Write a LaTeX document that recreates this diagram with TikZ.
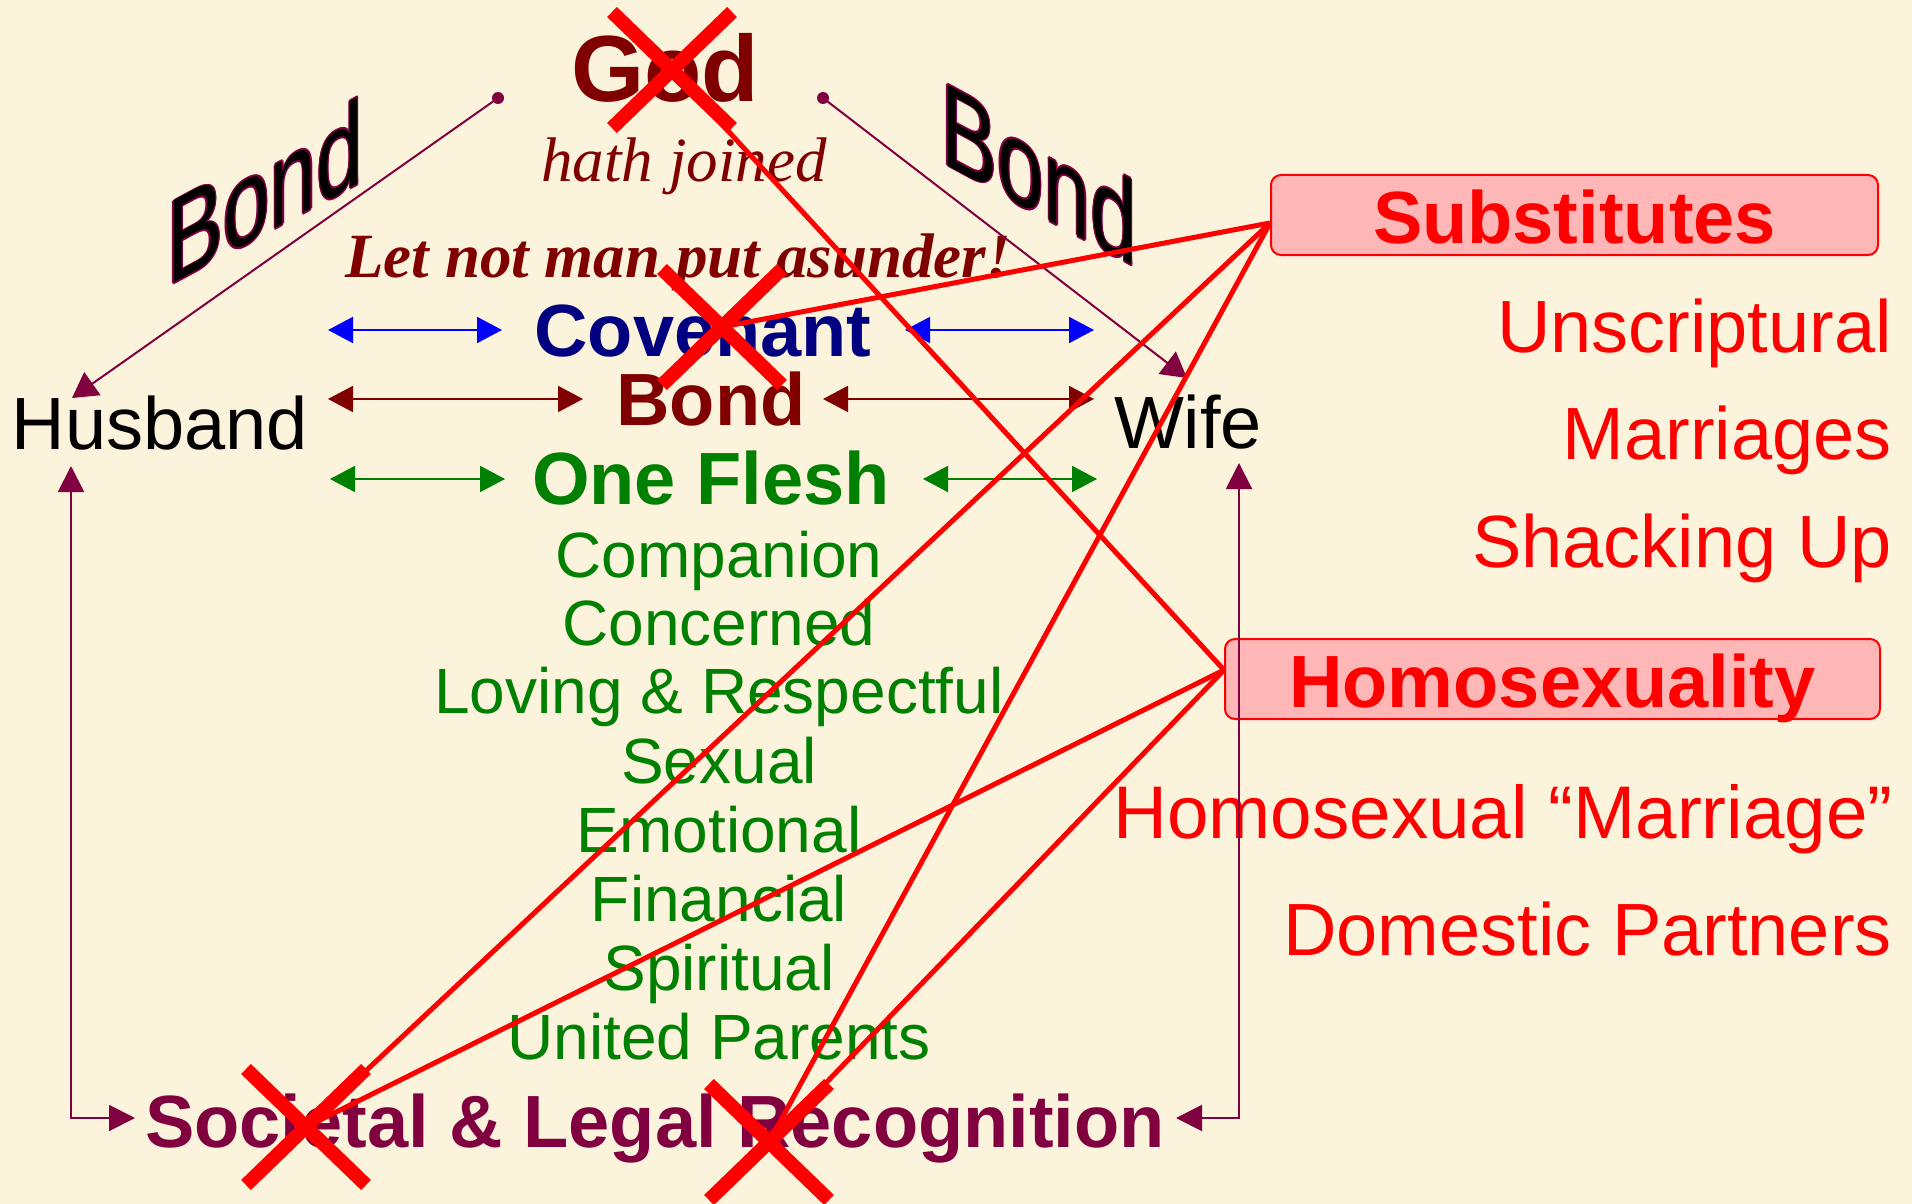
\documentclass[tikz,border=0pt]{standalone}
\usepackage{fontspec}
\setmainfont{Liberation Sans}
\newfontfamily\serifit{Liberation Serif}
\usetikzlibrary{arrows.meta}
\definecolor{cBg}{RGB}{252,243,221}
\definecolor{cDred}{RGB}{128,0,0}
\definecolor{cNavy}{RGB}{0,0,128}
\definecolor{cBlue}{RGB}{0,0,255}
\definecolor{cGreen}{RGB}{0,128,0}
\definecolor{cPlum}{RGB}{128,0,64}
\definecolor{cRed}{RGB}{255,0,0}
\definecolor{cPink}{RGB}{255,182,182}
\begin{document}
\begin{tikzpicture}[x=1pt,y=-1pt,
  txt/.style={inner sep=0pt, anchor=base},
  reg/.style={txt, font=\fontsize{74}{80}\selectfont},
  bld/.style={txt, font=\fontsize{74}{80}\selectfont\bfseries},
  lst/.style={txt, font=\fontsize{64}{70}\selectfont, text=cGreen},
  rgt/.style={inner sep=0pt, anchor=base east, font=\fontsize{74}{80}\selectfont, text=cRed},
  box/.style={draw=cRed, line width=2pt, fill=cPink, rounded corners=10pt, minimum height=80pt, inner sep=0pt, text height=56pt, text depth=0pt, font=\fontsize{74}{80}\selectfont\bfseries, text=cRed},
  xmark/.style={draw=cRed, line width=14pt},
  rline/.style={draw=cRed, line width=5pt},
  dot/.style={circle, fill=cPlum, inner sep=0pt, minimum size=12pt},
  plumarrow/.style={draw=cPlum, line width=2pt, -{Triangle[length=25pt,width=28pt]}},
  dbl/.style={line width=2pt, {Triangle[length=25pt,width=26pt]}-{Triangle[length=25pt,width=26pt]}},
  vcon/.style={draw=cPlum, line width=2pt, {Triangle[length=26pt,width=26pt]}-{Triangle[length=26pt,width=26pt]}},
  wordart/.style={inner sep=0pt, anchor=base west, transform shape, font=\fontsize{84}{90}\selectfont},
]
% background
\fill[cBg] (0,0) rectangle (1912,1204);
\useasboundingbox (0,0) rectangle (1912,1204);

% top texts
\node[txt, font=\fontsize{94}{100}\selectfont\bfseries, text=cDred] (god) at (665,102) {God};
\node[txt, font=\fontsize{63}{70}\serifit\itshape, text=cDred] (hath) at (684,182) {hath joined};
\node[txt, font=\fontsize{63}{70}\serifit\bfseries\itshape, text=cDred] (letnot) at (678,277) {Let not man put asunder!};

% slanted Bond labels
\begin{scope}[shift={(167,287)}, cm={1,0.54,0,1.42,(0,0)}]
  \foreach \a in {0,45,...,315} \node[wordart, text=cPlum] (bondLo\a) at (\a:1.3) {Bond};
  \node[wordart, text=black] (bondL) at (0,0) {Bond};
\end{scope}
\begin{scope}[shift={(941,162)}, cm={1,-0.54,0,1.4,(0,0)}]
  \foreach \a in {0,45,...,315} \node[wordart, text=cPlum] (bondRo\a) at (\a:1.3) {Bond};
  \node[wordart, text=black] (bondR) at (0,0) {Bond};
\end{scope}

% spouses
\node[reg] (husband) at (160,449) {Husband};
\node[reg] (wife) at (1188,448) {Wife};

% middle column
\node[bld, text=cNavy] (covenant) at (703,356) {Covenant};
\node[bld, text=cDred] (bond) at (711,425) {Bond};
\node[bld, text=cGreen] (oneflesh) at (711,504) {One Flesh};
\node[lst] (l1) at (719,577) {Companion};
\node[lst] (l2) at (719,645) {Concerned};
\node[lst] (l3) at (719,713) {Loving \& Respectful};
\node[lst] (l4) at (719,783) {Sexual};
\node[lst] (l5) at (719,852) {Emotional};
\node[lst] (l6) at (719,921) {Financial};
\node[lst] (l7) at (719,990) {Spiritual};
\node[lst] (l8) at (719,1059) {United Parents};
\node[bld, text=cPlum] (societal) at (655,1147) {Societal \& Legal Recognition};

% right side
\node[box, minimum width=607pt] (subs) at (1574.5,215) {Substitutes};
\node[rgt] (r1) at (1892,352) {Unscriptural};
\node[rgt] (r2) at (1892,459) {Marriages};
\node[rgt] (r3) at (1892,567) {Shacking Up};
\node[box, minimum width=655pt] (hom) at (1552.5,679) {Homosexuality};
\node[rgt, font=\fontsize{74.6}{80}\selectfont] (r4) at (1893,838) {Homosexual “Marriage”};
\node[rgt] (r5) at (1892,955) {Domestic Partners};

% God dots and bond lines
\node[dot] (dotL) at (498,98) {};
\node[dot] (dotR) at (823,98) {};
\coordinate (husTip) at (72,398);
\coordinate (wifeTip) at (1187,378);
\draw[plumarrow] (dotL.center) -- (husTip);
\draw[plumarrow] (dotR.center) -- (wifeTip);

% double arrows
\coordinate (b1a) at (328,330); \coordinate (b1b) at (502,330);
\coordinate (b2a) at (905,330); \coordinate (b2b) at (1094,330);
\coordinate (d1a) at (328,399); \coordinate (d1b) at (583,399);
\coordinate (d2a) at (823,399); \coordinate (d2b) at (1094,399);
\coordinate (g1a) at (330,479); \coordinate (g1b) at (505,479);
\coordinate (g2a) at (923,479); \coordinate (g2b) at (1097,479);
\draw[dbl, cBlue] (b1a) -- (b1b);
\draw[dbl, cBlue] (b2a) -- (b2b);
\draw[dbl, cDred] (d1a) -- (d1b);
\draw[dbl, cDred] (d2a) -- (d2b);
\draw[dbl, cGreen] (g1a) -- (g1b);
\draw[dbl, cGreen] (g2a) -- (g2b);

% recognition connectors
\coordinate (husUp) at (71,466); \coordinate (husCorner) at (71,1118); \coordinate (socL) at (135,1118);
\coordinate (wifeUp) at (1239,463); \coordinate (wifeCorner) at (1239,1118); \coordinate (socR) at (1176,1118);
\draw[vcon] (husUp) -- (husCorner) -- (socL);
\draw[vcon] (wifeUp) -- (wifeCorner) -- (socR);

% cross marks
\coordinate (xGod) at (672,70);
\coordinate (xCov) at (722,327);
\coordinate (xSoc) at (306,1127);
\coordinate (xRec) at (769,1142);
\foreach \c in {xGod,xCov,xSoc,xRec}{
  \draw[xmark] ([shift={(-60,-58)}]\c) -- ([shift={(60,58)}]\c);
  \draw[xmark] ([shift={(60,-58)}]\c) -- ([shift={(-60,58)}]\c);
}

% red connecting lines
\coordinate (subsA) at ([yshift=-8pt]subs.west);
\coordinate (homA) at ([yshift=9pt]hom.west);
\draw[rline] (subsA) -- (xCov);
\draw[rline] (subsA) -- (xSoc);
\draw[rline] (subsA) -- (xRec);
\draw[rline] (homA) -- (xGod);
\draw[rline] (homA) -- (xSoc);
\draw[rline] (homA) -- (xRec);
\end{tikzpicture}
\end{document}
